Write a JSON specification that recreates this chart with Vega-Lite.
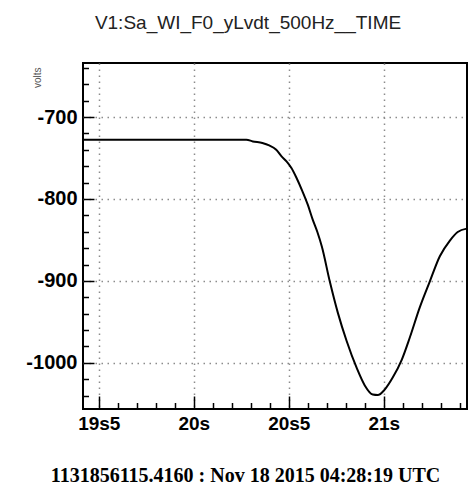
{
  "$schema": "https://vega.github.io/schema/vega-lite/v6.json",
  "width": 384,
  "height": 346,
  "autosize": {"type": "none"},
  "padding": {"left": 83, "top": 63, "right": 7, "bottom": 88},
  "background": "white",
  "title": {
    "text": "V1:Sa_WI_F0_yLvdt_500Hz__TIME",
    "font": "Liberation Sans",
    "fontSize": 19,
    "fontWeight": "normal",
    "color": "#222222",
    "anchor": "middle",
    "frame": "group",
    "dx": -27,
    "baseline": "alphabetic",
    "offset": 10
  },
  "config": {"view": {"stroke": "black", "strokeWidth": 2}},
  "data": {
    "values": [
      {"t": 19.417, "v": -727.7},
      {"t": 19.7, "v": -727.7},
      {"t": 20.0, "v": -727.7},
      {"t": 20.277, "v": -727.7},
      {"t": 20.311, "v": -729.8},
      {"t": 20.361, "v": -731.7},
      {"t": 20.397, "v": -734.6},
      {"t": 20.434, "v": -739.9},
      {"t": 20.462, "v": -748.0},
      {"t": 20.488, "v": -754.1},
      {"t": 20.514, "v": -762.2},
      {"t": 20.541, "v": -774.4},
      {"t": 20.572, "v": -790.7},
      {"t": 20.6, "v": -807.0},
      {"t": 20.626, "v": -825.2},
      {"t": 20.65, "v": -840.0},
      {"t": 20.674, "v": -858.0},
      {"t": 20.716, "v": -900.8},
      {"t": 20.758, "v": -938.7},
      {"t": 20.805, "v": -973.6},
      {"t": 20.858, "v": -1006.5},
      {"t": 20.9, "v": -1027.5},
      {"t": 20.942, "v": -1038.7},
      {"t": 20.968, "v": -1039.3},
      {"t": 21.005, "v": -1032.6},
      {"t": 21.047, "v": -1018.0},
      {"t": 21.095, "v": -996.0},
      {"t": 21.137, "v": -969.1},
      {"t": 21.189, "v": -932.6},
      {"t": 21.242, "v": -900.8},
      {"t": 21.295, "v": -869.9},
      {"t": 21.347, "v": -851.1},
      {"t": 21.389, "v": -840.4},
      {"t": 21.437, "v": -836.2}
    ]
  },
  "mark": {"type": "line", "color": "black", "strokeWidth": 2, "clip": true, "interpolate": "monotone"},
  "encoding": {
    "x": {
      "field": "t",
      "type": "quantitative",
      "scale": {"domain": [19.417, 21.438], "nice": false, "zero": false},
      "axis": {
        "values": [19.5, 19.6, 19.7, 19.8, 19.9, 20, 20.1, 20.2, 20.3, 20.4, 20.5, 20.6, 20.7, 20.8, 20.9, 21, 21.1, 21.2, 21.3, 21.4],
        "labelExpr": "datum.value == 19.5 ? '19s5' : datum.value == 20 ? '20s' : datum.value == 20.5 ? '20s5' : datum.value == 21 ? '21s' : ''",
        "domain": false,
        "tickColor": "black",
        "tickWidth": 1.5,
        "tickSize": {"condition": {"test": "indexof([19.5,20,20.5,21], datum.value) >= 0", "value": -13}, "value": -6.5},
        "grid": true,
        "gridColor": "#8c8c8c",
        "gridDash": [1.5, 4.5],
        "gridWidth": 1.5,
        "gridOpacity": {"condition": {"test": "indexof([19.5,20,20.5,21], datum.value) >= 0", "value": 1}, "value": 0},
        "labelFont": "Liberation Sans",
        "labelFontWeight": "bold",
        "labelFontSize": 19,
        "labelColor": "black",
        "labelPadding": 18,
        "labelBaseline": "top",
        "labelFlush": false,
        "labelOverlap": false,
        "title": "1131856115.4160 : Nov 18 2015 04:28:19 UTC",
        "titleFont": "Liberation Serif",
        "titleFontWeight": "bold",
        "titleFontSize": 20,
        "titleColor": "black",
        "titleX": 162,
        "titleY": 72.5,
        "titleAlign": "center",
        "titleBaseline": "alphabetic"
      }
    },
    "y": {
      "field": "v",
      "type": "quantitative",
      "scale": {"domain": [-1056.3, -634.1], "nice": false, "zero": false},
      "axis": {
        "values": [-1040, -1020, -1000, -980, -960, -940, -920, -900, -880, -860, -840, -820, -800, -780, -760, -740, -720, -700, -680, -660, -640],
        "labelExpr": "datum.value % 100 == 0 ? '' + datum.value : ''",
        "domain": false,
        "tickColor": "black",
        "tickWidth": 1.5,
        "tickSize": {"condition": {"test": "datum.value % 100 == 0", "value": -11}, "value": -5.5},
        "grid": true,
        "gridColor": "#8c8c8c",
        "gridDash": [1.5, 4.5],
        "gridWidth": 1.5,
        "gridOpacity": {"condition": {"test": "datum.value % 100 == 0", "value": 1}, "value": 0},
        "labelFont": "Liberation Sans",
        "labelFontWeight": "bold",
        "labelFontSize": 20,
        "labelColor": "black",
        "labelPadding": 17,
        "labelBaseline": "middle",
        "labelFlush": false,
        "labelOverlap": false,
        "title": "volts",
        "titleFont": "Liberation Sans",
        "titleFontWeight": "normal",
        "titleFontSize": 10,
        "titleColor": "#555555",
        "titleAngle": 270,
        "titleX": -43,
        "titleY": 4,
        "titleAlign": "right",
        "titleBaseline": "alphabetic"
      }
    }
  }
}
